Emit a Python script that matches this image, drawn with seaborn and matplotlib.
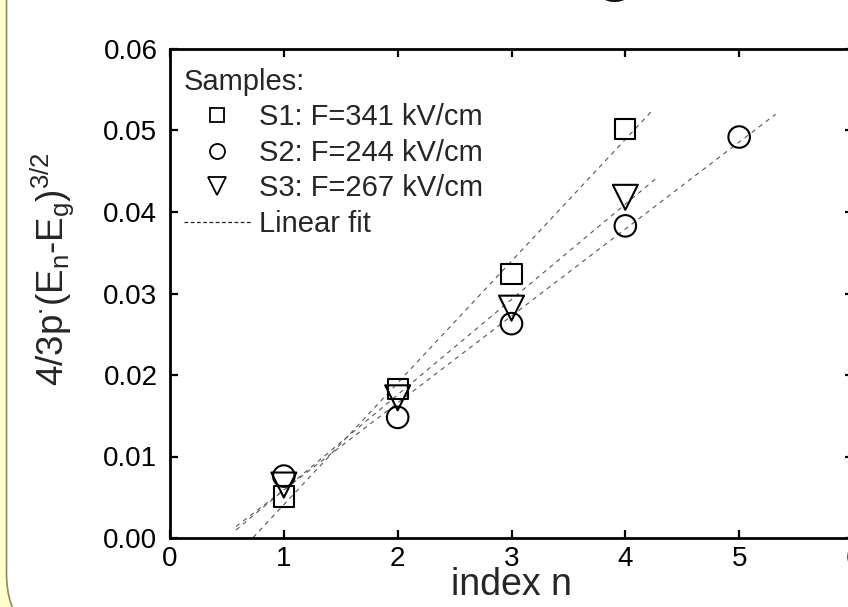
import numpy as np
import pandas as pd
import seaborn as sns
import matplotlib.pyplot as plt
from matplotlib.lines import Line2D
from matplotlib.patches import FancyBboxPatch
from matplotlib.transforms import IdentityTransform

# values
n_s1 = [1, 2, 3, 4]
y_s1 = [0.0051, 0.0183, 0.0324, 0.0502]
n_s2 = [1, 2, 3, 4, 5]
y_s2 = [0.0076, 0.0148, 0.0263, 0.0383, 0.0492]
n_s3 = [1, 2, 3, 4]
y_s3 = [0.0065, 0.0172, 0.0282, 0.0418]

labels = ["S1: F=341 kV/cm", "S2: F=244 kV/cm", "S3: F=267 kV/cm"]
markers = ["s", "o", "v"]
msizes = [14.5, 15.5, 18]
# x-span drawn for each linear fit
fit_span = [(0.73, 4.25), (0.58, 5.32), (0.58, 4.28)]

sns.set_theme(style="ticks")
plt.rcParams['font.family'] = ['Liberation Sans', 'DejaVu Sans']
plt.rcParams['mathtext.fontset'] = 'custom'
plt.rcParams['mathtext.rm'] = 'Liberation Sans'
plt.rcParams['mathtext.it'] = 'Liberation Sans'

fig = plt.figure(figsize=(8.48, 6.07), dpi=100)
fig.patch.set_facecolor('#FFFFCC')

# white slide panel with rounded lower-left corner
panel = FancyBboxPatch((6.5, -35), 3000, 3000, boxstyle="round,pad=0,rounding_size=69",
                       transform=IdentityTransform(), facecolor='white',
                       edgecolor='#8C8C5A', linewidth=1.2, zorder=-5)
fig.patches.append(panel)

# bit of the slide title that is cut off at the top
fig.text(615 / 848, 1.018, "g", fontsize=46, fontweight='bold', ha='center',
         va='baseline', color='#111111')

ax = fig.add_axes([170 / 848, 69 / 607, 683 / 848, 489 / 607])
ax.set_facecolor('white')
ax.set_zorder(2)

series = [(n_s1, y_s1), (n_s2, y_s2), (n_s3, y_s3)]
for (nx, ny), lab, mk, ms, span in zip(series, labels, markers, msizes, fit_span):
    k, b = np.polyfit(nx, ny, 1)
    fx = np.array(span)
    fit = pd.DataFrame({"n": fx, "y": k * fx + b})
    sns.lineplot(data=fit, x="n", y="y", ax=ax, color='#555555', lw=0.8,
                 linestyle=(0, (4, 4)), zorder=2)
    df = pd.DataFrame({"n": nx, "y": ny})
    sns.scatterplot(data=df, x="n", y="y", ax=ax, marker=mk, s=ms ** 2,
                    facecolor='none', edgecolor='black', linewidth=1.5, zorder=3)

ax.set_xlim(0, 6)
ax.set_ylim(0, 0.06)
ax.set_xticks(range(0, 7))
ax.set_yticks(np.arange(0, 0.061, 0.01))
ax.set_yticklabels([f"{v:.2f}" for v in np.arange(0, 0.061, 0.01)])
ax.tick_params(direction='in', length=6, width=1.6, labelsize=20, pad=9,
               top=True, right=True, colors='black')
ax.tick_params(axis='x', pad=6)
for sp in ax.spines.values():
    sp.set_visible(True)
    sp.set_linewidth(2)
    sp.set_color('black')

ax.set_xlabel("index n", fontsize=27, labelpad=-4)
ax.set_ylabel(r"4/3p$^{\bullet}$(E$_{\rm n}$-E$_{\rm g}$)$^{3/2}$", fontsize=26.5)
ax.yaxis.set_label_coords(-0.137, 0.55)

handles = [Line2D([], [], ls='none', marker=mk, ms=ms * 0.7, mfc='none', mec='black', mew=1.3)
           for mk, ms in zip(markers, msizes)]
handles.append(Line2D([], [], color='#222222', lw=0.9, ls=(0, (3, 2))))
leg = ax.legend(handles, labels + ["Linear fit"], title="Samples:", loc='upper left',
                bbox_to_anchor=(0.02, 0.962), borderaxespad=0, borderpad=0,
                frameon=False, fontsize=21, title_fontsize=21, handlelength=2.3,
                handletextpad=0.3, labelspacing=0.26, alignment='left')

fig.savefig("out.png", dpi=100, facecolor=fig.get_facecolor())
